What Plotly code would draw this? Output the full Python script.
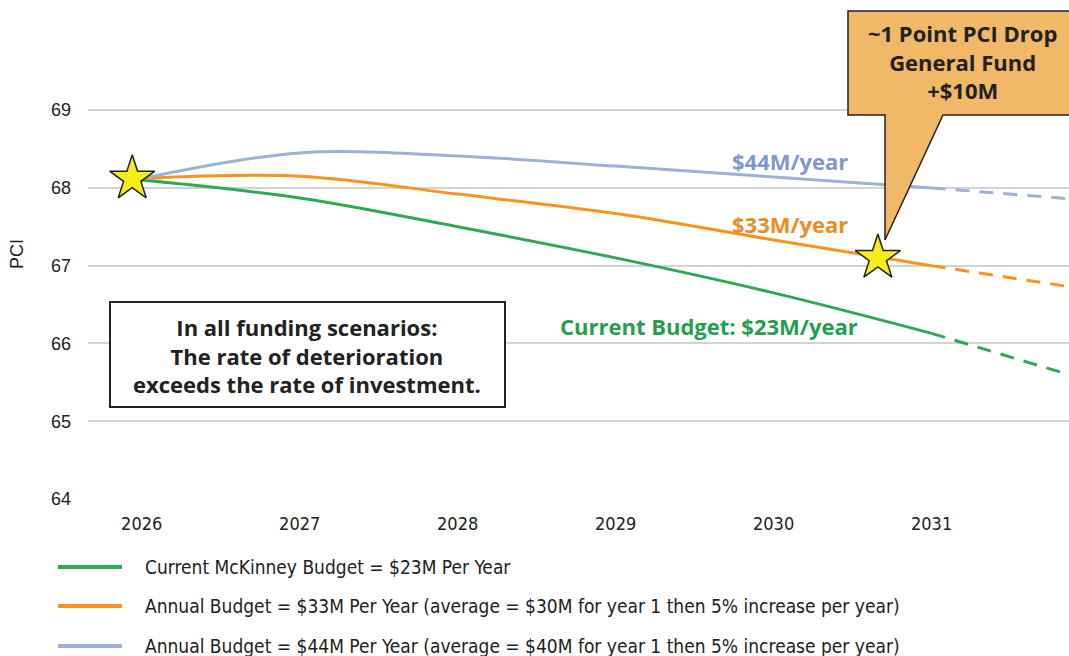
import plotly.graph_objects as go

# ---------------- data ----------------
years = [2026, 2027, 2028, 2029, 2030, 2031]
proj_years = [2031, 2032]

pci_23m = [68.10, 67.87, 67.50, 67.10, 66.65, 66.13]
pci_23m_proj = [66.13, 65.52]

pci_33m = [68.12, 68.15, 67.92, 67.67, 67.33, 67.00]
pci_33m_proj = [67.00, 66.69]

pci_44m = [68.12, 68.45, 68.41, 68.28, 68.14, 68.00]
pci_44m_proj = [68.00, 67.84]

star_x = [2025.94, 2030.66]
star_y = [68.12, 67.10]

year_ticks = [2026, 2027, 2028, 2029, 2030, 2031]
pci_ticks = [64, 65, 66, 67, 68, 69]

legend_labels = [
    "Current McKinney Budget = $23M Per Year",
    "Annual Budget = $33M Per Year (average = $30M for year 1 then 5% increase per year)",
    "Annual Budget = $44M Per Year (average = $40M for year 1 then 5% increase per year)",
]

GREEN = "#2DAA55"
ORANGE = "#F7941D"
BLUE = "#9DB0D6"

# ---------------- layout helpers ----------------
W, H = 1069, 656
L, R, T, B = 88, 0, 9, 157


def px(x):
    return (x - L) / (W - L - R)


def py(y):
    return (H - B - y) / (H - T - B)


fig = go.Figure()

series = [
    (pci_23m, pci_23m_proj, GREEN),
    (pci_33m, pci_33m_proj, ORANGE),
    (pci_44m, pci_44m_proj, BLUE),
]
for vals, proj, col in series:
    fig.add_trace(go.Scatter(x=years, y=vals, mode="lines",
                             line=dict(color=col, width=3, shape="spline", smoothing=1.0),
                             showlegend=False, hoverinfo="skip"))
    fig.add_trace(go.Scatter(x=proj_years, y=proj, mode="lines",
                             line=dict(color=col, width=3, dash="14px,10px"),
                             showlegend=False, hoverinfo="skip"))

fig.add_trace(go.Scatter(x=star_x, y=star_y, mode="markers",
                         marker=dict(symbol="star", size=34, color="#F5EC1A",
                                     line=dict(color="#222222", width=1.5)),
                         showlegend=False, hoverinfo="skip", cliponaxis=False))

BOLD = "Open Sans"
BSIZE = 22


def note(x, y, text, color, size=BSIZE, xanchor="center"):
    fig.add_annotation(x=px(x), y=py(y), xref="paper", yref="paper", text=text,
                       showarrow=False, xanchor=xanchor, yanchor="middle", align="center",
                       font=dict(family=BOLD, size=size, color=color))


# series labels
note(790, 161, "<b>$44M/year</b>", "#7F98CB")
note(790, 224, "<b>$33M/year</b>", "#F08C1E")
note(709, 326, "<b>Current Budget: $23M/year</b>", "#22A052")

# text box
fig.add_shape(type="rect", xref="paper", yref="paper",
              x0=px(110), x1=px(505), y0=py(407), y1=py(302),
              line=dict(color="#222222", width=2), fillcolor="white", layer="above")
note(307, 355, "<b>In all funding scenarios:<br>The rate of deterioration<br>exceeds the rate of investment.</b>",
     "#222222")

# callout
pts = [(848, 11), (1080, 11), (1080, 115), (943, 115), (885, 240), (885, 115), (848, 115)]
path = "M " + " L ".join(f"{px(a):.5f},{py(b):.5f}" for a, b in pts) + " Z"
fig.add_shape(type="path", xref="paper", yref="paper", path=path,
              fillcolor="#F0B867", line=dict(color="#222222", width=1.5), layer="above")
note(962, 62, "<b>~1 Point PCI Drop<br>General Fund<br>+$10M</b>", "#222222")

# custom legend
NARROW = "Liberation Sans Narrow, Arial Narrow, DejaVu Sans Condensed, sans-serif"
for lbl, col, yy in zip(legend_labels, [GREEN, ORANGE, BLUE], [567, 606, 646]):
    fig.add_shape(type="line", xref="paper", yref="paper",
                  x0=px(58), x1=px(122), y0=py(yy), y1=py(yy),
                  line=dict(color=col, width=4))
    fig.add_annotation(x=px(143), y=py(yy), xref="paper", yref="paper", text=lbl,
                       showarrow=False, xanchor="left", yanchor="middle",
                       font=dict(family=NARROW, size=19, color="#222222"))

fig.update_layout(
    width=W, height=H,
    margin=dict(l=L, r=R, t=T, b=B, autoexpand=False),
    plot_bgcolor="white", paper_bgcolor="white",
    showlegend=False,
    xaxis=dict(range=[2025.66, 2031.87], tickvals=year_ticks, ticktext=[str(v) for v in year_ticks],
               showgrid=False, zeroline=False, showline=False, ticks="",
               ticklabelstandoff=12,
               tickfont=dict(family=NARROW, size=18, color="#222222")),
    yaxis=dict(range=[64, 70.3], tickvals=pci_ticks, showgrid=True, gridcolor="#D3D3D3", gridwidth=1.5,
               zeroline=False, showline=False, ticks="", ticklabelstandoff=16,
               tickfont=dict(family="Liberation Sans, Arial, sans-serif", size=18, color="#222222"),
               title=dict(text="PCI", standoff=22,
                          font=dict(family="Liberation Sans, Arial, sans-serif", size=18, color="#222222"))),
)

fig.write_html("out.html", config={"displayModeBar": False},
               post_script="document.body.style.margin='0';document.body.style.overflow='hidden';")
